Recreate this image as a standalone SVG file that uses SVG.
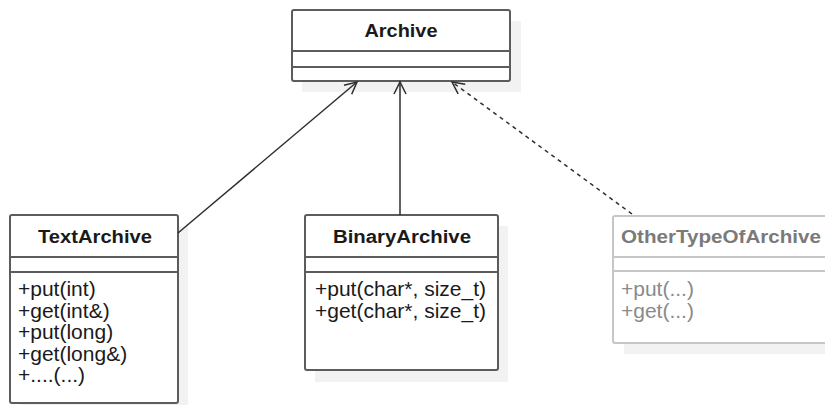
<svg xmlns="http://www.w3.org/2000/svg" width="825" height="405" viewBox="0 0 825 405">
  <style>
    .shadow { fill: #f2f2f2; stroke: none; }
    .box { fill: #ffffff; stroke: #5c5c5c; stroke-width: 2; }
    .sep { stroke: #5c5c5c; stroke-width: 2; }
    .box.faded { stroke: #c6c6c6; }
    .sep.faded { stroke: #c6c6c6; }
    .title { font-family: "Liberation Sans", Arial, sans-serif; font-weight: bold; font-size: 17.5px; fill: #1a1a1a; text-anchor: middle; }
    .title.faded { fill: #7a7a7a; }
    .op { font-family: "Liberation Sans", Arial, sans-serif; font-size: 21px; fill: #1a1a1a; }
    .op.faded { fill: #8a8a8a; }
    .link { fill: none; stroke: #2e2e2e; stroke-width: 1.5; }
    .dashed { stroke-dasharray: 4 4; }
  </style>
  <defs>
    <marker id="open-arrow" markerUnits="userSpaceOnUse" markerWidth="20" markerHeight="20" refX="14" refY="10" orient="auto" viewBox="0 0 20 20">
      <path d="M2,4 L14,10 L2,16" fill="none" stroke="#2e2e2e" stroke-width="1.5"/>
    </marker>
  </defs>

  <rect width="825" height="405" fill="#ffffff"/>

  <!-- Archive -->
  <g id="archive">
    <rect class="shadow" x="302" y="21" width="219" height="71"/>
    <rect class="box" x="292" y="10" width="218" height="71" rx="2"/>
    <line class="sep" x1="292" y1="51" x2="510" y2="51"/>
    <line class="sep" x1="292" y1="67" x2="510" y2="67"/>
    <text class="title" x="401" y="37" textLength="73" lengthAdjust="spacingAndGlyphs">Archive</text>
  </g>

  <!-- TextArchive -->
  <g id="text-archive">
    <rect class="shadow" x="20" y="226" width="168" height="190"/>
    <rect class="box" x="10" y="215" width="168" height="188" rx="2"/>
    <line class="sep" x1="10" y1="257" x2="178" y2="257"/>
    <line class="sep" x1="10" y1="272" x2="178" y2="272"/>
    <text class="title" x="95" y="243" textLength="114" lengthAdjust="spacingAndGlyphs">TextArchive</text>
    <text class="op" x="18" y="296">+put(int)</text>
    <text class="op" x="18" y="317.5">+get(int&amp;)</text>
    <text class="op" x="18" y="339">+put(long)</text>
    <text class="op" x="18" y="360.5">+get(long&amp;)</text>
    <text class="op" x="18" y="382">+....(...)</text>
  </g>

  <!-- BinaryArchive -->
  <g id="binary-archive">
    <rect class="shadow" x="315" y="226" width="193" height="156"/>
    <rect class="box" x="305" y="215" width="193" height="155" rx="2"/>
    <line class="sep" x1="305" y1="257" x2="498" y2="257"/>
    <line class="sep" x1="305" y1="272" x2="498" y2="272"/>
    <text class="title" x="402" y="243" textLength="138" lengthAdjust="spacingAndGlyphs">BinaryArchive</text>
    <text class="op" x="315" y="296">+put(char*, size_t)</text>
    <text class="op" x="315" y="317.5">+get(char*, size_t)</text>
  </g>

  <!-- OtherTypeOfArchive -->
  <g id="other-archive">
    <rect class="shadow" x="624" y="227" width="215" height="127"/>
    <rect class="box faded" x="613" y="216" width="215" height="127" rx="2"/>
    <line class="sep faded" x1="613" y1="257" x2="828" y2="257"/>
    <line class="sep faded" x1="613" y1="271" x2="828" y2="271"/>
    <text class="title faded" x="721" y="243" textLength="200" lengthAdjust="spacingAndGlyphs">OtherTypeOfArchive</text>
    <text class="op faded" x="621" y="296">+put(...)</text>
    <text class="op faded" x="621" y="318">+get(...)</text>
  </g>

  <!-- Inheritance and realization links -->
  <g id="connectors">
    <line class="link" x1="178" y1="233" x2="357" y2="82" marker-end="url(#open-arrow)"/>
    <line class="link" x1="400" y1="215" x2="400" y2="82" marker-end="url(#open-arrow)"/>
    <line class="link dashed" x1="632" y1="214" x2="452" y2="82" marker-end="url(#open-arrow)"/>
  </g>
</svg>
